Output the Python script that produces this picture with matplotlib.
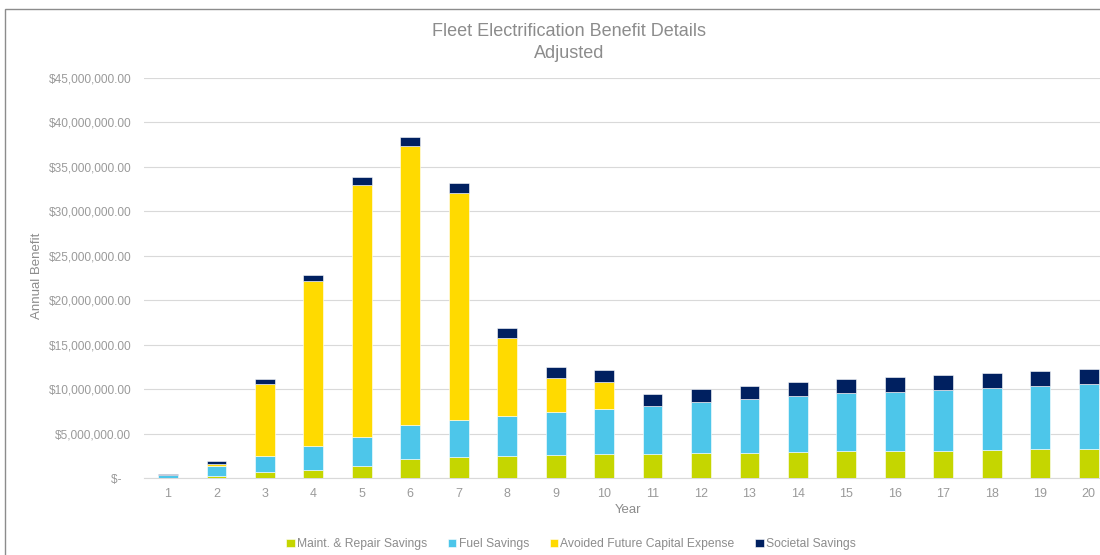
import numpy as np
import matplotlib
matplotlib.use("Agg")
import matplotlib.pyplot as plt
from matplotlib.patches import Rectangle
from matplotlib.ticker import FuncFormatter

plt.rcParams['font.family'] = ['Liberation Sans', 'DejaVu Sans']

years = list(range(1, 21))
maint = [0.05, 0.26, 0.64, 0.86, 1.39, 2.10, 2.36, 2.47, 2.58, 2.70,
         2.73, 2.81, 2.81, 2.89, 3.00, 3.04, 3.08, 3.15, 3.23, 3.27]
fuel = [0.30, 1.13, 1.87, 2.74, 3.22, 3.90, 4.20, 4.53, 4.87, 5.09,
        5.36, 5.77, 6.07, 6.38, 6.54, 6.69, 6.87, 6.99, 7.13, 7.28]
avoided = [0.0, 0.22, 8.10, 18.55, 28.40, 31.40, 25.50, 8.73, 3.82, 3.03,
           0, 0, 0, 0, 0, 0, 0, 0, 0, 0]
societal = [0.10, 0.30, 0.53, 0.68, 0.80, 1.00, 1.10, 1.16, 1.20, 1.28,
            1.31, 1.42, 1.46, 1.54, 1.61, 1.65, 1.69, 1.73, 1.73, 1.77]

series = [
    ("Maint. & Repair Savings", maint, "#C5D600"),
    ("Fuel Savings", fuel, "#4DC6EA"),
    ("Avoided Future Capital Expense", avoided, "#FFDA00"),
    ("Societal Savings", societal, "#002060"),
]

text_grey = "#9a9a9a"

fig = plt.figure(figsize=(11, 5.55), dpi=100)
ax = fig.add_axes([0.1307, 0.1387, 0.881, 0.7207])

# outer chart border (runs off the right and bottom edges)
fig.patches.append(Rectangle((5 / 1100, -0.1), 1.2, 1 - 9 / 555 + 0.1,
                             transform=fig.transFigure, fill=False,
                             edgecolor="#8c8c8c", linewidth=1.0))

bottom = np.zeros(len(years))
for name, vals, color in series:
    v = np.array(vals) * 1e6
    ax.bar(years, v, width=0.41, bottom=bottom, color=color, label=name,
           edgecolor="white", linewidth=0.4, zorder=3)
    bottom += v

ax.set_xlim(0.5, 20.5)
ax.set_ylim(0, 45e6)
ax.set_xticks(years)
ax.set_yticks(np.arange(0, 45e6 + 1, 5e6))


def money(y, pos):
    if y == 0:
        return "$-   "
    return "${:,.2f}".format(y)


ax.yaxis.set_major_formatter(FuncFormatter(money))
ax.tick_params(axis="y", length=0, labelsize=8.6, labelcolor=text_grey, pad=9)
ax.tick_params(axis="x", length=0, labelsize=9, labelcolor=text_grey, pad=7)
ax.grid(axis="y", color="#D9D9D9", linewidth=0.8, zorder=0)
for side in ["top", "right", "left"]:
    ax.spines[side].set_visible(False)
ax.spines["bottom"].set_color("#D9D9D9")

ax.set_xlabel("Year", fontsize=9.5, color="#8c8c8c", labelpad=3)
ax.set_ylabel("Annual Benefit", fontsize=9.5, color="#8c8c8c")
ax.yaxis.set_label_coords(-0.104, 0.505)

fig.text(569 / 1100, 1 - 32 / 555, "Fleet Electrification Benefit Details",
         ha="center", va="center", fontsize=13, color="#8c8c8c")
fig.text(569 / 1100, 1 - 53 / 555, "Adjusted",
         ha="center", va="center", fontsize=13, color="#8c8c8c")

fig.legend(loc="center", bbox_to_anchor=(571 / 1100, 1 - 544 / 555), ncol=4,
           frameon=False, fontsize=8.7, handlelength=0.7, handleheight=0.7,
           handletextpad=0.2, columnspacing=1.7, labelcolor="#8c8c8c")

fig.savefig("out.png", dpi=100)
